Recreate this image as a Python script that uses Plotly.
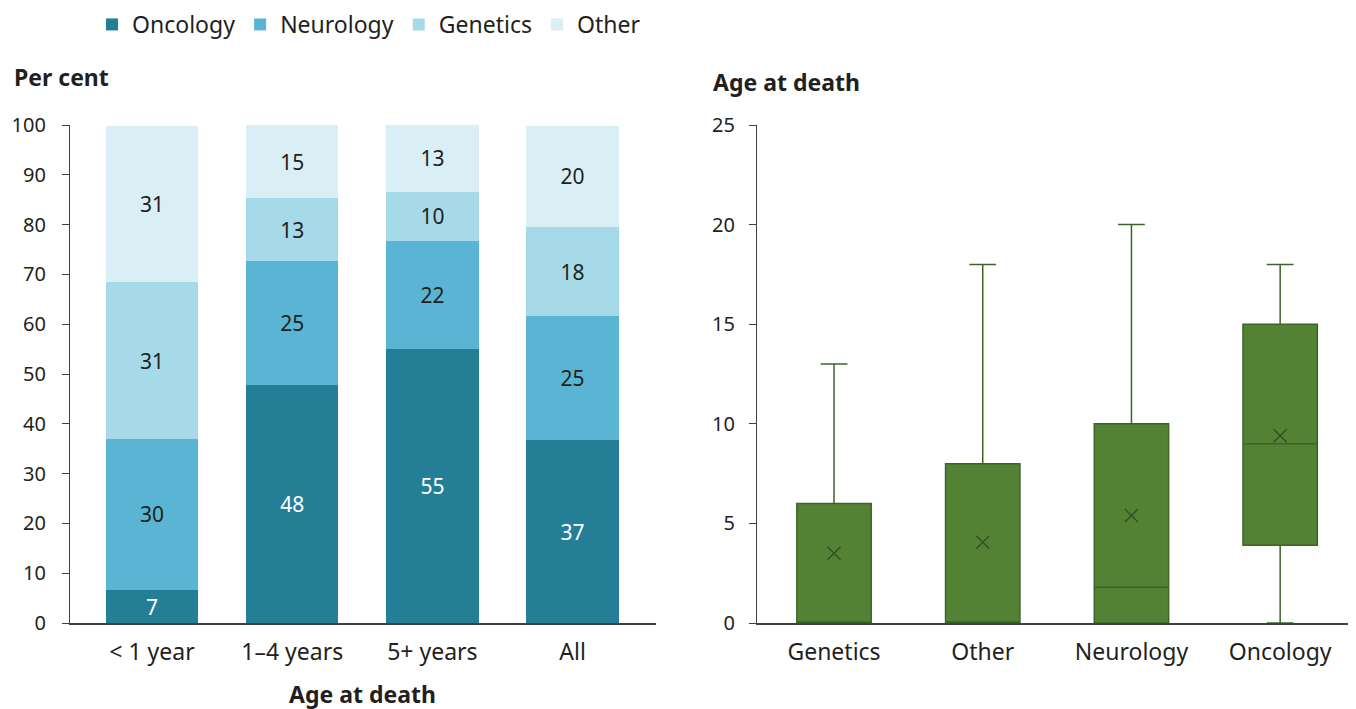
import plotly.graph_objects as go

# Left panel: cause of death by age group (per cent)
age_groups = ["< 1 year", "1\u20134 years", "5+ years", "All"]
oncology = [6.6, 47.8, 55.1, 36.7]
neurology = [30.4, 24.9, 21.7, 24.9]
genetics = [31.4, 12.6, 9.8, 17.9]
other = [31.4, 14.7, 13.4, 20.4]

# Right panel: age at death by cause (box stats)
causes = ["Genetics", "Other", "Neurology", "Oncology"]
lower = [0, 0, 0, 0]
q1 = [0, 0, 0, 3.9]
median = [0, 0, 1.8, 9.0]
q3 = [6, 8, 10, 15]
upper = [13, 18, 20, 18]
mean = [3.5, 4.05, 5.4, 9.4]

FONT = "Noto Sans"
INK = "#231f20"

# the page body has an 8px margin, so the figure sits at (8, 8)
OFF = 8
W, H = 1356 - OFF, 709 - OFF


def px_x(p):
    return (p - OFF) / W


def px_y(p):
    return 1 - (p - OFF) / H


fig = go.Figure()

series = [
    ("Oncology", oncology, "#237e96", "white"),
    ("Neurology", neurology, "#5ab4d3", INK),
    ("Genetics", genetics, "#a6dae8", INK),
    ("Other", other, "#daeef6", INK),
]
for name, vals, color, tcolor in series:
    fig.add_trace(go.Bar(
        x=age_groups, y=vals, name=name,
        marker=dict(color=color, line_width=0),
        width=0.66,
        texttemplate="%{y:.0f}",
        textposition="inside",
        insidetextanchor="middle",
        textangle=0,
        constraintext="none",
        textfont=dict(size=21, color=tcolor, family=FONT),
        xaxis="x", yaxis="y",
        hoverinfo="skip",
    ))

fig.add_trace(go.Box(
    x=causes, q1=q1, median=median, q3=q3,
    lowerfence=lower, upperfence=upper,
    width=0.5, whiskerwidth=0.36,
    fillcolor="#548235",
    line=dict(color="#3d6428", width=1.5),
    showlegend=False,
    xaxis="x2", yaxis="y2",
))
fig.add_trace(go.Scatter(
    x=causes, y=mean, mode="markers",
    marker=dict(symbol="x-thin-open", size=13, color="#2f4f20",
                line=dict(color="#2f4f20", width=1.3)),
    showlegend=False,
    xaxis="x2", yaxis="y2",
))

ydom = [px_y(623), px_y(125)]
axis_font = dict(family=FONT, size=20, color=INK)
cat_font = dict(family=FONT, size=23, color=INK)

fig.update_layout(
    width=W, height=H,
    margin=dict(l=0, r=0, t=0, b=0, autoexpand=False),
    barmode="stack",
    plot_bgcolor="white",
    paper_bgcolor="white",
    font=dict(family=FONT, size=20, color=INK),
    legend=dict(
        orientation="h", x=px_x(92), y=px_y(3), yanchor="top",
        xanchor="left", font=dict(size=23, color=INK),
        itemwidth=30, tracegroupgap=0, traceorder="normal",
    ),
    xaxis=dict(
        domain=[px_x(70), px_x(656)], range=[-0.585, 3.595],
        showline=True, linecolor="#404040", linewidth=1.5,
        ticks="", tickfont=cat_font, ticklabelstandoff=8,
        automargin=False,
    ),
    yaxis=dict(
        domain=ydom, range=[0, 100], dtick=10,
        showline=True, linecolor="#404040", linewidth=1.2,
        ticks="outside", ticklen=7, tickcolor="#404040",
        showgrid=False, zeroline=False, automargin=False,
        tickfont=axis_font, ticklabelstandoff=12,
    ),
    xaxis2=dict(
        domain=[px_x(757), 1.0], range=[-0.518, 3.51],
        showline=True, linecolor="#404040", linewidth=1.5,
        ticks="", tickfont=cat_font, ticklabelstandoff=8,
        anchor="y2", automargin=False,
    ),
    yaxis2=dict(
        domain=ydom, range=[0, 25], dtick=5,
        showline=True, linecolor="#404040", linewidth=1.2,
        ticks="outside", ticklen=7, tickcolor="#404040",
        showgrid=False, zeroline=False, automargin=False,
        tickfont=axis_font, ticklabelstandoff=10,
        anchor="x2",
    ),
    annotations=[
        dict(text="<b>Per cent</b>", x=px_x(12), y=px_y(77),
             xref="paper", yref="paper", xanchor="left", yanchor="middle",
             showarrow=False, font=dict(size=23, color=INK)),
        dict(text="<b>Age at death</b>", x=px_x(711), y=px_y(82),
             xref="paper", yref="paper", xanchor="left", yanchor="middle",
             showarrow=False, font=dict(size=23, color=INK)),
        dict(text="<b>Age at death</b>", x=px_x(362), y=px_y(694),
             xref="paper", yref="paper", xanchor="center", yanchor="middle",
             showarrow=False, font=dict(size=23, color=INK)),
    ],
)

fig.write_html("out.html")
